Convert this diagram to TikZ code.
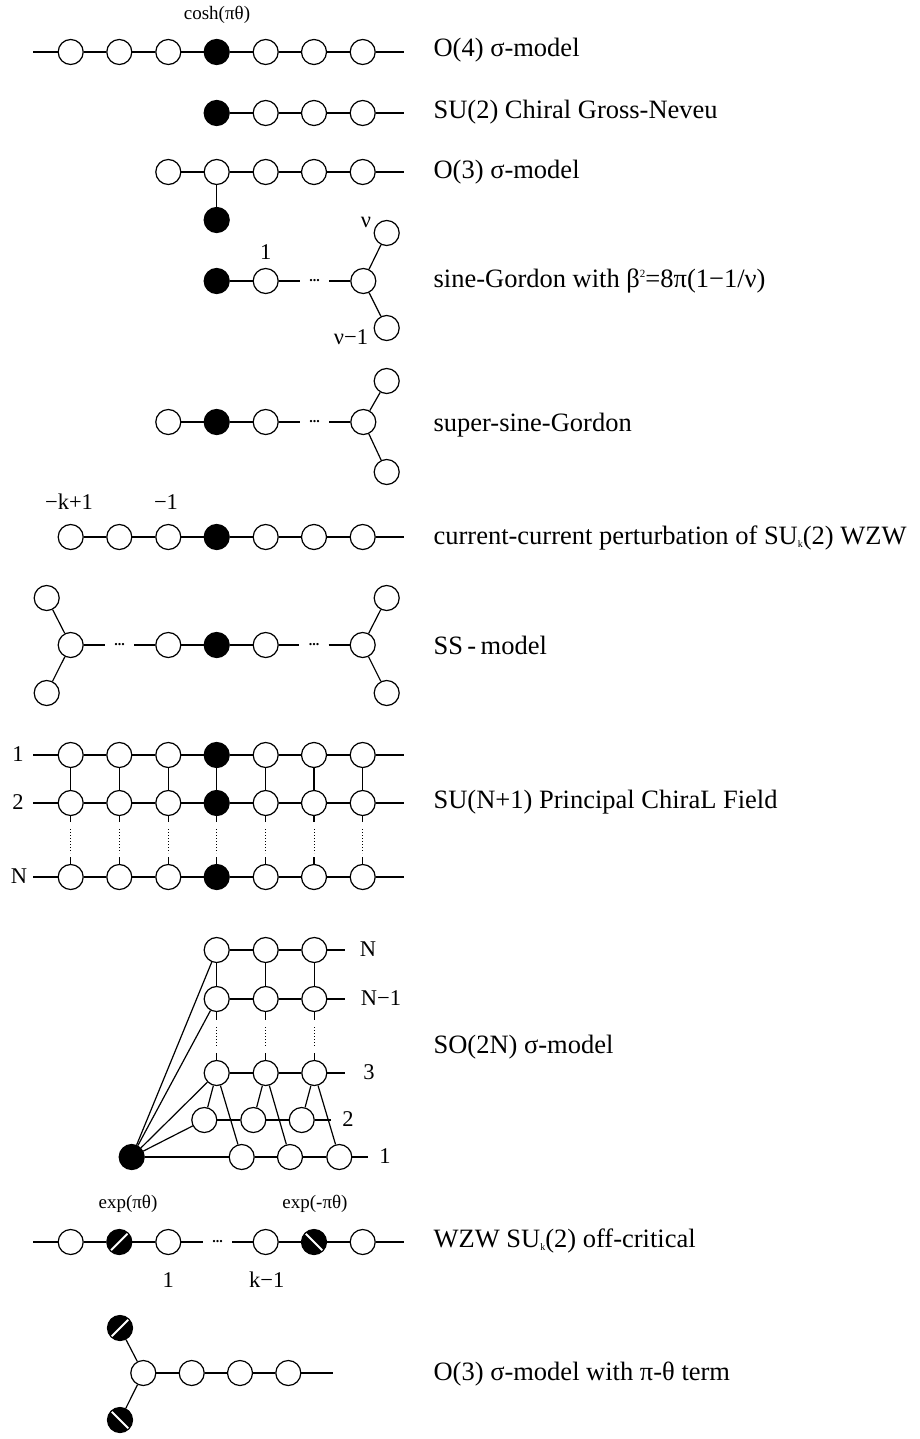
\documentclass[tikz,border=0pt]{standalone}
\usepackage{fontspec}
\setmainfont{Liberation Serif}
\begin{document}
\begin{tikzpicture}[x=1pt,y=-1pt,line width=1.2pt,
  wn/.style={circle,draw,fill=white,minimum size=25pt,inner sep=0pt},
  bn/.style={wn,fill=black},
  sn/.style={bn,path picture={\draw[white,line width=2pt] (path picture bounding box.south west) -- (path picture bounding box.north east);}},
  bsn/.style={bn,path picture={\draw[white,line width=2pt] (path picture bounding box.north west) -- (path picture bounding box.south east);}},
  lab/.style={anchor=west,inner sep=0pt,font=\fontsize{26.5}{30}\selectfont},
  num/.style={inner sep=0pt,font=\fontsize{22.5}{26}\selectfont},
  sm/.style={inner sep=0pt,font=\fontsize{19}{22}\selectfont},
  dd/.style={inner sep=0pt,minimum width=28pt,minimum height=6pt,font=\fontsize{14}{14}\selectfont\bfseries},
  dl/.style={dotted,line width=1pt}]
\useasboundingbox (0,0) rectangle (919,1439);

% ---------- O(4) sigma model ----------
\coordinate (aL) at (33,52); \coordinate (aR) at (404,52);
\node[wn] (a1) at (70.7,52) {};
\node[wn] (a2) at (119.3,52) {};
\node[wn] (a3) at (168.3,52) {};
\node[bn] (a4) at (216.7,52) {};
\node[wn] (a5) at (265.7,52) {};
\node[wn] (a6) at (314,52) {};
\node[wn] (a7) at (362.7,52) {};
\draw (aL) -- (a1) -- (a2) -- (a3) -- (a4) -- (a5) -- (a6) -- (a7) -- (aR);
\node[sm] (acosh) at (217,15) {cosh(πθ)};
\node[lab] (ta) at (433,50) {O(4) σ-model};

% ---------- SU(2) chiral GN ----------
\coordinate (bR) at (404,113);
\node[bn] (b4) at (216.7,113) {};
\node[wn] (b5) at (265.7,113) {};
\node[wn] (b6) at (314,113) {};
\node[wn] (b7) at (362.7,113) {};
\draw (b4) -- (b5) -- (b6) -- (b7) -- (bR);
\node[lab] (tb) at (433,112) {SU(2) Chiral Gross-Neveu};

% ---------- O(3) sigma model ----------
\coordinate (cR) at (404,172);
\node[wn] (c3) at (168.3,172) {};
\node[wn] (c4) at (216.7,172) {};
\node[wn] (c5) at (265.7,172) {};
\node[wn] (c6) at (314,172) {};
\node[wn] (c7) at (362.7,172) {};
\node[bn] (c0) at (216.7,220) {};
\draw (c3) -- (c4) -- (c5) -- (c6) -- (c7) -- (cR);
\draw (c4) -- (c0);
\node[lab] (tc) at (433,172) {O(3) σ-model};

% ---------- sine-Gordon ----------
\node[bn] (d1) at (216.7,281) {};
\node[wn] (d2) at (265.7,281) {};
\node[dd] (d3) at (314.5,281) {...};
\node[wn] (dj) at (363.3,281) {};
\node[wn] (du) at (386.7,233) {};
\node[wn] (dw) at (386.7,328) {};
\draw (d1) -- (d2) -- (d3) -- (dj);
\draw (dj) -- (du); \draw (dj) -- (dw);
\node[num] (dn1) at (265.7,252) {1};
\node[num] (dnu) at (366,222) {ν};
\node[num] (dnu1) at (351,337) {ν−1};
\node[lab] (td) at (433,281) {sine-Gordon with β\raisebox{10pt}{\fontsize{11}{11}\selectfont 2}=8π(1−1/ν)};

% ---------- super-sine-Gordon ----------
\node[wn] (e1) at (168.3,422) {};
\node[bn] (e2) at (216.7,422) {};
\node[wn] (e3) at (265.7,422) {};
\node[dd] (e4) at (314.5,422) {...};
\node[wn] (ej) at (363.3,422) {};
\node[wn] (eu) at (386.7,381) {};
\node[wn] (ew) at (386.7,472) {};
\draw (e1) -- (e2) -- (e3) -- (e4) -- (ej);
\draw (ej) -- (eu); \draw (ej) -- (ew);
\node[lab] (te) at (433,425) {super-sine-Gordon};

% ---------- current-current ----------
\coordinate (fR) at (404,537);
\node[wn] (f1) at (70.7,537) {};
\node[wn] (f2) at (119.3,537) {};
\node[wn] (f3) at (168.3,537) {};
\node[bn] (f4) at (216.7,537) {};
\node[wn] (f5) at (265.7,537) {};
\node[wn] (f6) at (314,537) {};
\node[wn] (f7) at (362.7,537) {};
\draw (f1) -- (f2) -- (f3) -- (f4) -- (f5) -- (f6) -- (f7) -- (fR);
\node[num] (fk) at (69,502) {−k+1};
\node[num] (fm) at (166,502) {−1};
\node[lab] (tf) at (433,538) {current-current perturbation of SU\raisebox{-3pt}{\fontsize{10}{10}\selectfont k}(2) WZW};

% ---------- SS-model ----------
\node[wn] (gj1) at (70.7,645) {};
\node[wn] (gu1) at (46.7,598) {};
\node[wn] (gw1) at (46.7,693) {};
\node[dd] (gd1) at (119.5,645) {...};
\node[wn] (g3) at (168.3,645) {};
\node[bn] (g4) at (216.7,645) {};
\node[wn] (g5) at (265.7,645) {};
\node[dd] (gd2) at (314,645) {...};
\node[wn] (gj2) at (362.7,645) {};
\node[wn] (gu2) at (386.7,598) {};
\node[wn] (gw2) at (386.7,693) {};
\draw (gj1) -- (gd1) -- (g3) -- (g4) -- (g5) -- (gd2) -- (gj2);
\draw (gj1) -- (gu1); \draw (gj1) -- (gw1);
\draw (gj2) -- (gu2); \draw (gj2) -- (gw2);
\node[lab] (tg) at (433,645) {SS\,-\,model};

% ---------- SU(N+1) PCF ----------
\foreach \r/\y in {1/755,2/803,N/877} {
  \coordinate (pL\r) at (33,\y);
  \coordinate (pR\r) at (404,\y);
  \foreach \i/\x in {1/70.7,2/119.3,3/168.3,5/265.7,6/314,7/362.7} {
    \node[wn] (p\r-\i) at (\x,\y) {};
  }
  \node[bn] (p\r-4) at (216.7,\y) {};
  \draw (pL\r) -- (p\r-1) -- (p\r-2) -- (p\r-3) -- (p\r-4) -- (p\r-5) -- (p\r-6) -- (p\r-7) -- (pR\r);
}
\foreach \i/\x in {1/70.7,2/119.3,3/168.3,4/216.7,5/265.7,6/314,7/362.7} {
  \draw (p1-\i) -- (p2-\i);
  \coordinate (q1-\i) at (\x,822);
  \coordinate (q2-\i) at (\x,829);
  \coordinate (q3-\i) at (\x,853);
  \coordinate (q4-\i) at (\x,857);
  \draw (p2-\i) -- (q1-\i);
  \draw[dl] (q2-\i) -- (q3-\i);
  \draw (q4-\i) -- (pN-\i);
}
\node[num] (pn1) at (18,754) {1};
\node[num] (pn2) at (18,802) {2};
\node[num] (pnN) at (19,876) {N};
\node[lab] (tp) at (433,802) {SU(N+1) Principal ChiraL Field};

% ---------- SO(2N) sigma model ----------
\node[bn] (z) at (131.7,1157) {};
\foreach \r/\y in {N/950,M/999,T/1073} {
  \node[wn] (s\r-1) at (216.7,\y) {};
  \node[wn] (s\r-2) at (265.7,\y) {};
  \node[wn] (s\r-3) at (314.3,\y) {};
  \coordinate (sR\r) at (345,\y);
  \draw (s\r-1) -- (s\r-2) -- (s\r-3) -- (sR\r);
}
\node[wn] (sD-1) at (204.3,1120) {};
\node[wn] (sD-2) at (253.3,1120) {};
\node[wn] (sD-3) at (301.7,1120) {};
\coordinate (sRD) at (331,1120);
\node[wn] (sO-1) at (241.7,1157) {};
\node[wn] (sO-2) at (290,1157) {};
\node[wn] (sO-3) at (339.3,1157) {};
\coordinate (sRO) at (368,1157);
\draw (sD-1) -- (sD-2) -- (sD-3) -- (sRD);
\draw (z) -- (sO-1) -- (sO-2) -- (sO-3) -- (sRO);
\foreach \i/\x in {1/216.7,2/265.7,3/314.3} {
  \draw (sN-\i) -- (sM-\i);
  \coordinate (u1-\i) at (\x,1020);
  \coordinate (u2-\i) at (\x,1027);
  \coordinate (u3-\i) at (\x,1046);
  \coordinate (u4-\i) at (\x,1053);
  \draw (sM-\i) -- (u1-\i);
  \draw[dl] (u2-\i) -- (u3-\i);
  \draw (u4-\i) -- (sT-\i);
  \draw (sT-\i) -- (sD-\i);
  \draw (sT-\i) -- (sO-\i);
}
\draw (z) -- (sN-1);
\draw (z) -- (sM-1);
\draw (z) -- (sT-1);
\draw (z) -- (sD-1);
\node[num] (snN) at (368,949) {N};
\node[num] (snM) at (381,998) {N−1};
\node[num] (snT) at (369,1072) {3};
\node[num] (snD) at (348,1119) {2};
\node[num] (snO) at (385,1156) {1};
\node[lab] (ts) at (433,1047) {SO(2N) σ-model};

% ---------- WZW off-critical ----------
\coordinate (hL) at (33,1242); \coordinate (hR) at (404,1242);
\node[wn] (h1) at (70.7,1242) {};
\node[sn] (h2) at (119.3,1242) {};
\node[wn] (h3) at (168.3,1242) {};
\node[dd] (h4) at (217.5,1242) {...};
\node[wn] (h5) at (265.7,1242) {};
\node[bsn] (h6) at (314,1242) {};
\node[wn] (h7) at (362.7,1242) {};
\draw (hL) -- (h1) -- (h2) -- (h3) -- (h4) -- (h5) -- (h6) -- (h7) -- (hR);
\node[sm] (hexp1) at (128,1204) {exp(πθ)};
\node[sm] (hexp2) at (315,1204) {exp(-πθ)};
\node[num] (hn1) at (168.3,1280) {1};
\node[num] (hnk) at (266.7,1280) {k−1};
\node[lab] (th) at (433,1241) {WZW SU\raisebox{-3pt}{\fontsize{10}{10}\selectfont k}(2) off-critical};

% ---------- O(3) with theta = pi ----------
\coordinate (kR) at (333,1373);
\node[wn] (k0) at (143.3,1373) {};
\node[wn] (k1) at (191.7,1373) {};
\node[wn] (k2) at (240,1373) {};
\node[wn] (k3) at (288.3,1373) {};
\node[sn] (ku) at (120,1328) {};
\node[bsn] (kw) at (120,1420) {};
\draw (k0) -- (k1) -- (k2) -- (k3) -- (kR);
\draw (k0) -- (ku); \draw (k0) -- (kw);
\node[lab] (tk) at (433,1374) {O(3) σ-model with π-θ term};
\end{tikzpicture}
\end{document}
